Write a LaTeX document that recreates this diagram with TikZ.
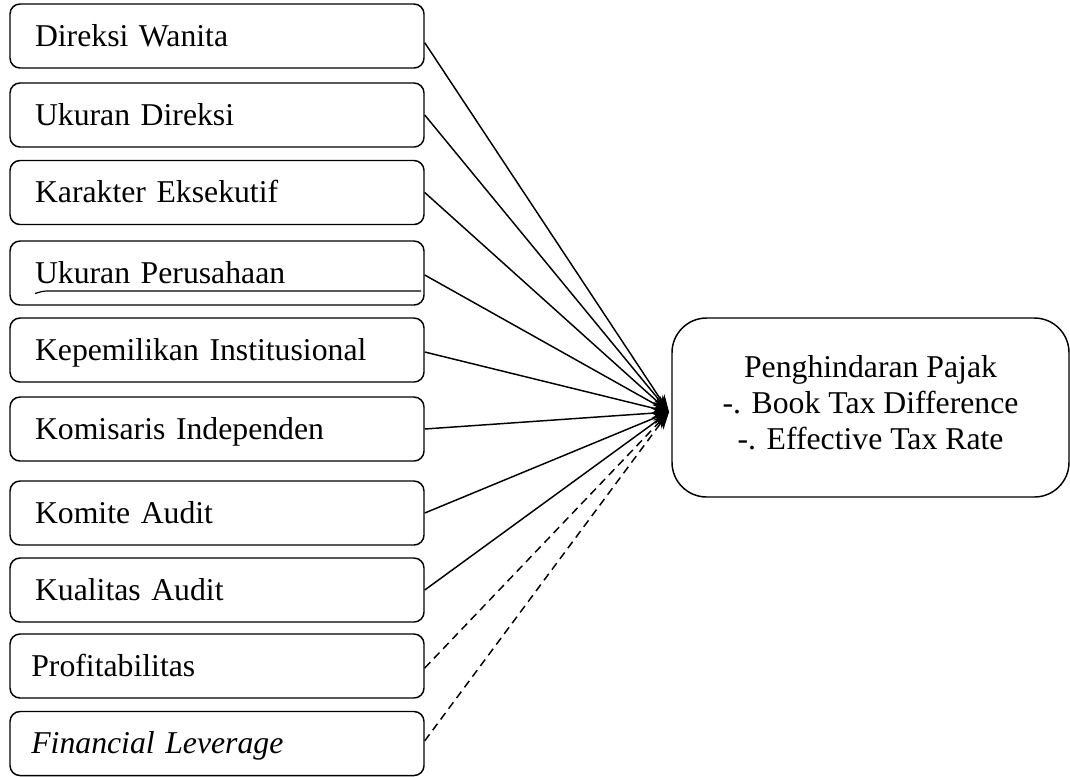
\documentclass[tikz,border=0pt]{standalone}
\usepackage{fontspec}
\setmainfont{Liberation Serif}
\usetikzlibrary{arrows.meta}
\begin{document}
\begin{tikzpicture}[x=0.75pt,y=-0.75pt,
  every node/.style={font=\fontsize{23.8pt}{27pt}\selectfont},
  leftbox/.style={draw, line width=1.1pt, rounded corners=7.5pt, minimum width=310.5pt,
    minimum height=48pt, inner xsep=18.75pt, inner ysep=0pt, text width=273pt, align=left,
    text height=15.7pt, text depth=0pt},
  leftboxb/.style={leftbox, inner xsep=16pt, text width=278.5pt},
  rightbox/.style={draw, line width=1.1pt, rounded corners=26pt, minimum width=297.75pt,
    minimum height=134.25pt, inner sep=0pt},
  conn/.style={line width=1.1pt, -{Stealth[length=13pt,width=9pt]}},
  dconn/.style={conn, dash pattern=on 6pt off 4pt}]
\useasboundingbox (0,0) rectangle (1070,776);

\node[leftbox]  (b1)  at (217,36)    {Direksi Wanita};
\node[leftbox]  (b2)  at (217,115)   {Ukuran Direksi};
\node[leftbox]  (b3)  at (217,192.5) {Karakter Eksekutif};
\node[leftbox]  (b4)  at (217,273)   {Ukuran Perusahaan};
\node[leftbox]  (b5)  at (217,350)   {Kepemilikan Institusional};
\node[leftbox]  (b6)  at (217,429)   {Komisaris Independen};
\node[leftbox]  (b7)  at (217,513)   {Komite Audit};
\node[leftbox]  (b8)  at (217,590)   {Kualitas Audit};
\node[leftboxb] (b9)  at (217,666)   {Profitabilitas};
\node[leftboxb] (b10) at (217,743.5) {\textit{Financial Leverage}};

\draw[line width=0.9pt] (35,293.5) to[out=15,in=180] (47,291) -- (421,291);

\node[rightbox] (dv) at (870.5,407.5) {};
\node[align=center, inner sep=0pt] (dvtext) at (870.5,402.5)
  {Penghindaran Pajak\\-. Book Tax Difference\\-. Effective Tax Rate};

\coordinate (tip) at (669,412);

\draw[conn] ([yshift=-5pt]b1.east) -- (tip);
\draw[conn] (b2.east) -- (tip);
\draw[conn] (b3.east) -- (tip);
\draw[conn] ([yshift=-1.5pt]b4.east) -- (tip);
\draw[conn] ([yshift=-1.5pt]b5.east) -- (tip);
\draw[conn] (b6.east) -- (tip);
\draw[conn] (b7.east) -- (tip);
\draw[conn] (b8.east) -- (tip);
\draw[dconn] ([yshift=-1.5pt]b9.east) -- (tip);
\draw[dconn] ([yshift=2pt]b10.east) -- (tip);
\end{tikzpicture}
\end{document}
